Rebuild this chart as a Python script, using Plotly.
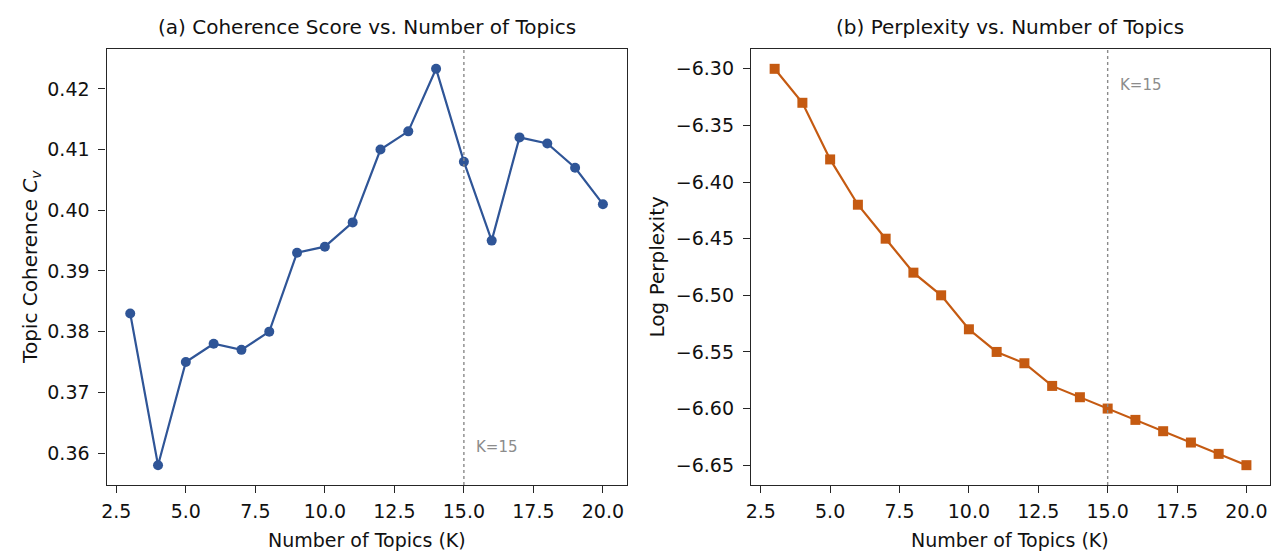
import plotly.graph_objects as go

topics = [3, 4, 5, 6, 7, 8, 9, 10, 11, 12, 13, 14, 15, 16, 17, 18, 19, 20]
coherence = [0.383, 0.358, 0.375, 0.378, 0.377, 0.380, 0.393, 0.394, 0.398, 0.410,
             0.413, 0.4233, 0.408, 0.395, 0.412, 0.411, 0.407, 0.401]
perplexity = [-6.30, -6.33, -6.38, -6.42, -6.45, -6.48, -6.50, -6.53, -6.55, -6.56,
              -6.58, -6.59, -6.60, -6.61, -6.62, -6.63, -6.64, -6.65]
x_ticks = [2.5, 5.0, 7.5, 10.0, 12.5, 15.0, 17.5, 20.0]
x_tick_text = ["2.5", "5.0", "7.5", "10.0", "12.5", "15.0", "17.5", "20.0"]
coh_ticks = [0.36, 0.37, 0.38, 0.39, 0.40, 0.41, 0.42]
coh_tick_text = ["0.36", "0.37", "0.38", "0.39", "0.40", "0.41", "0.42"]
perp_ticks = [-6.30, -6.35, -6.40, -6.45, -6.50, -6.55, -6.60, -6.65]
perp_tick_text = ["\u22126.30", "\u22126.35", "\u22126.40", "\u22126.45", "\u22126.50",
                  "\u22126.55", "\u22126.60", "\u22126.65"]
best_k = 15

BLUE = "#2F5597"
ORANGE = "#C55A11"
FONT = "DejaVu Sans"
W, H = 1272, 551


def px(x):
    return x / W


def py(y):
    return 1 - y / H


fig = go.Figure()
fig.add_trace(go.Scatter(x=topics, y=coherence, mode="lines+markers",
                         line=dict(color=BLUE, width=2.2),
                         marker=dict(symbol="circle", size=10, color=BLUE),
                         xaxis="x", yaxis="y", showlegend=False))
fig.add_trace(go.Scatter(x=topics, y=perplexity, mode="lines+markers",
                         line=dict(color=ORANGE, width=2.2),
                         marker=dict(symbol="square", size=10, color=ORANGE),
                         xaxis="x2", yaxis="y2", showlegend=False))


def pad(vals, frac=0.05):
    lo, hi = min(vals), max(vals)
    r = hi - lo
    return [lo - frac * r, hi + frac * r]


ydom = [py(485), py(49)]
common = dict(showline=True, linecolor="#262626", linewidth=1.4, mirror=True,
              ticks="outside", ticklen=7, tickwidth=1.3, tickcolor="#262626",
              showgrid=False, zeroline=False,
              tickfont=dict(family=FONT, size=19, color="#111111"))

fig.update_layout(
    width=W, height=H,
    margin=dict(l=0, r=0, t=0, b=0),
    paper_bgcolor="white", plot_bgcolor="white",
    font=dict(family=FONT, color="#111111"),
    xaxis=dict(domain=[px(102), px(624)], range=pad(topics), tickvals=x_ticks,
               ticktext=x_tick_text, anchor="y", ticklabelstandoff=2, **common),
    yaxis=dict(domain=ydom, range=pad(coherence), tickvals=coh_ticks,
               ticktext=coh_tick_text, anchor="x", ticklabelstandoff=5, **common),
    xaxis2=dict(domain=[px(749), px(1270)], range=pad(topics), tickvals=x_ticks,
                ticktext=x_tick_text, anchor="y2", ticklabelstandoff=2, **common),
    yaxis2=dict(domain=ydom, range=pad(perplexity), tickvals=perp_ticks,
                ticktext=perp_tick_text, anchor="x2", ticklabelstandoff=5, **common),
)

for xr, yr in [("x", "y"), ("x2", "y2")]:
    fig.add_shape(type="line", xref=xr, yref=yr + " domain", x0=best_k, x1=best_k,
                  y0=0, y1=1, line=dict(color="#8a8a8a", width=1.4, dash="dot"))

ann = []
ann.append(dict(text="K=15", xref="x", yref="y", x=best_k + 0.38, y=0.361,
                xanchor="left", yanchor="middle", showarrow=False,
                font=dict(family=FONT, size=15, color="#8c8c8c")))
ann.append(dict(text="K=15", xref="x2", yref="y2", x=best_k + 0.38, y=-6.314,
                xanchor="left", yanchor="middle", showarrow=False,
                font=dict(family=FONT, size=15, color="#8c8c8c")))
ann.append(dict(text="(a) Coherence Score vs. Number of Topics", xref="paper", yref="paper",
                x=px(363), y=py(27), xanchor="center", yanchor="middle", showarrow=False,
                font=dict(family=FONT, size=20, color="#111111")))
ann.append(dict(text="(b) Perplexity vs. Number of Topics", xref="paper", yref="paper",
                x=px(1009), y=py(27), xanchor="center", yanchor="middle", showarrow=False,
                font=dict(family=FONT, size=20, color="#111111")))
for cx in [363, 1009]:
    ann.append(dict(text="Number of Topics (K)", xref="paper", yref="paper",
                    x=px(cx), y=py(540), xanchor="center", yanchor="middle", showarrow=False,
                    font=dict(family=FONT, size=19, color="#111111")))
ann.append(dict(text="Topic Coherence <i>C</i><sub><i>v</i></sub>", xref="paper", yref="paper",
                x=px(26), y=py(267), xanchor="center", yanchor="middle", showarrow=False,
                textangle=-90, font=dict(family=FONT, size=20, color="#111111")))
ann.append(dict(text="Log Perplexity", xref="paper", yref="paper",
                x=px(655), y=py(267), xanchor="center", yanchor="middle", showarrow=False,
                textangle=-90, font=dict(family=FONT, size=20, color="#111111")))
fig.update_layout(annotations=ann)

# remove the page's default body margin so the figure fills the window exactly
page_js = ("document.body.style.margin='0';"
           "document.documentElement.style.overflow='hidden';"
           "document.body.style.overflow='hidden';")
fig.write_html("out.html", post_script=page_js, config={"displayModeBar": False})
